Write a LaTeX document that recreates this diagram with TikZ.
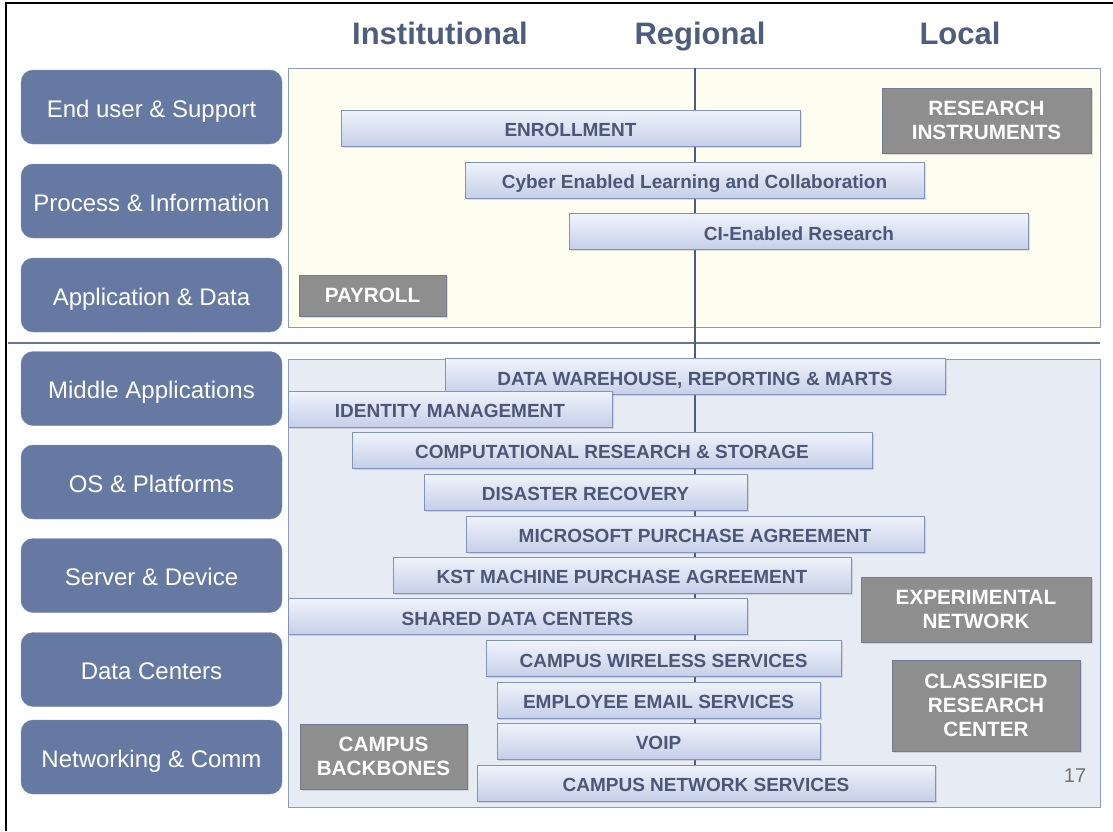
\documentclass[tikz,border=0pt]{standalone}
\usepackage{fontspec}
\setmainfont{Liberation Sans}
\usetikzlibrary{positioning,shadows}

\definecolor{hdrblue}{RGB}{78,92,125}
\definecolor{layerblue}{RGB}{101,121,163}
\definecolor{barline}{RGB}{130,146,186}
\definecolor{bartop}{RGB}{240,243,251}
\definecolor{barbot}{RGB}{197,207,232}
\definecolor{bartext}{RGB}{76,87,118}
\definecolor{greybox}{RGB}{142,142,142}
\definecolor{creampanel}{RGB}{253,253,240}
\definecolor{bluepanel}{RGB}{231,235,243}
\definecolor{panelline}{RGB}{143,154,181}

\begin{document}
\begin{tikzpicture}[x=1pt,y=-1pt,
    header/.style={font=\fontsize{31}{35}\selectfont\bfseries, text=hdrblue, anchor=base},
    layer/.style={draw=layerblue!85!white, fill=layerblue, rounded corners=12pt, text=white,
        minimum width=261pt, minimum height=74pt, inner sep=0pt, text height=20pt, text depth=0pt,
        font=\fontsize{24}{28}\selectfont},
    bar/.style={draw=barline, line width=1pt, top color=bartop, bottom color=barbot, text=bartext,
        minimum height=36pt, inner sep=0pt, text height=17pt, text depth=0pt,
        font=\fontsize{19}{22}\selectfont\bfseries,
        drop shadow={shadow xshift=1.5pt, shadow yshift=-1.5pt, opacity=0.25}},
    local/.style={draw=panelline!80!black, line width=1pt, fill=greybox, text=white, align=center,
        inner sep=0pt, font=\fontsize{20.7}{24}\selectfont\bfseries,
        drop shadow={shadow xshift=1.5pt, shadow yshift=-1.5pt, opacity=0.25}}
]
    \useasboundingbox (0,0) rectangle (1113,831);

    % frame
    \path[draw, line width=2.5pt] (6,831) -- (6,3) -- (1113,3);

    % headers
    \node[header] (hinst) at (440,44) {Institutional};
    \node[header] (hreg) at (700,44) {Regional};
    \node[header] (hloc) at (960,44) {Local};

    % layer boxes on the left
    \foreach \y/\txt [count=\i] in {107/End user \& Support, 201/Process \& Information,
        295/Application \& Data, 388.5/Middle Applications, 482/OS \& Platforms,
        575.5/Server \& Device, 669.5/Data Centers, 757/Networking \& Comm} {
        \node[layer] (layer\i) at (151.5,\y) {\txt};
    }

    % panels and dividing lines
    \path[draw=panelline, fill=creampanel] (288,68) rectangle (1100,327);
    \path[draw=panelline, fill=bluepanel] (288,359) rectangle (1100,807);
    \path[draw=hdrblue!85!white, line width=2.5pt] (8,343) -- (1100,343);
    \coordinate (regtop) at (695,68);
    \coordinate (regbot) at (695,800);
    \path[draw=hdrblue, line width=2pt] (regtop) -- (regbot);

    % shared services
    \foreach \x/\y/\w/\nm/\txt in {
        570.5/128/459/enroll/ENROLLMENT,
        694.5/180/459/cyber/Cyber Enabled Learning and Collaboration,
        799/231.5/459/cires/CI-Enabled Research,
        695/376.5/500/dw/{DATA WAREHOUSE, REPORTING \& MARTS},
        450/409/324/idm/IDENTITY MANAGEMENT,
        612/450/520/crs/COMPUTATIONAL RESEARCH \& STORAGE,
        585.5/492/323/dr/DISASTER RECOVERY,
        695/534/458/mspa/MICROSOFT PURCHASE AGREEMENT,
        622/575/458/kst/KST MACHINE PURCHASE AGREEMENT,
        517.5/616.5/459/sdc/SHARED DATA CENTERS,
        663.5/658.5/355/cws/CAMPUS WIRELESS SERVICES,
        658.5/700/323/ees/EMPLOYEE EMAIL SERVICES,
        658.5/741/323/voip/VOIP,
        706/783/458/cns/CAMPUS NETWORK SERVICES} {
        \node[bar, minimum width=\w pt] (\nm) at (\x,\y) {\txt};
    }

    % local only
    \node[local, minimum width=209pt, minimum height=65pt] (resinst) at (986.5,120.5) {RESEARCH\\INSTRUMENTS};
    \node[local, minimum width=147pt, minimum height=41pt] (payroll) at (372.5,295.5) {PAYROLL};
    \node[local, minimum width=230pt, minimum height=65pt] (expnet) at (976,609.5) {EXPERIMENTAL\\NETWORK};
    \node[local, minimum width=188pt, minimum height=91pt] (classres) at (986,705.5) {CLASSIFIED\\RESEARCH\\CENTER};
    \node[local, minimum width=167pt, minimum height=65pt] (backbone) at (383.5,756.5) {CAMPUS\\BACKBONES};

    \node[text=gray!90!black, font=\fontsize{20}{24}\selectfont] (pagenum) at (1075,776) {17};

\end{tikzpicture}
\end{document}
